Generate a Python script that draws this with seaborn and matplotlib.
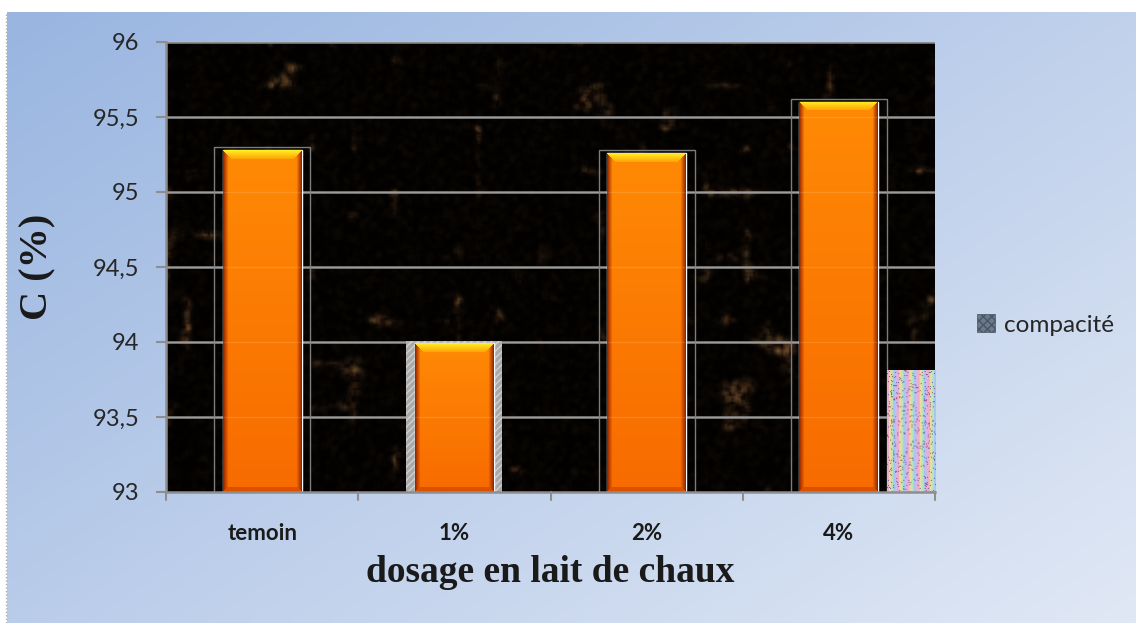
import numpy as np
import pandas as pd
import matplotlib
matplotlib.use("Agg")
import matplotlib.pyplot as plt
from matplotlib.patches import Patch
import seaborn as sns

# ---- data -------------------------------------------------------------
categories = ["temoin", "1%", "2%", "4%"]
compacite = [95.30, 94.01, 95.28, 95.62]
# narrow patterned column drawn at the right edge of the last group
extra_label = "compacité"
extra_value = 93.81
y_ticks = [93, 93.5, 94, 94.5, 95, 95.5, 96]
y_ticklabels = ["93", "93,5", "94", "94,5", "95", "95,5", "96"]

W, H, DPI = 1136, 623, 100
sns.set_theme(style="white")
plt.rcParams["font.family"] = ["Lato", "DejaVu Sans"]

fig = plt.figure(figsize=(W / DPI, H / DPI), dpi=DPI, facecolor="white")
rng = np.random.default_rng(11)


def upsample(a, shape):
    """Bilinear resize of a 2-D array."""
    h, w = a.shape
    yi = np.linspace(0, h - 1, shape[0])
    xi = np.linspace(0, w - 1, shape[1])
    y0 = np.floor(yi).astype(int); y1 = np.minimum(y0 + 1, h - 1); fy = (yi - y0)[:, None]
    x0 = np.floor(xi).astype(int); x1 = np.minimum(x0 + 1, w - 1); fx = (xi - x0)[None, :]
    top = a[y0][:, x0] * (1 - fx) + a[y0][:, x1] * fx
    bot = a[y1][:, x0] * (1 - fx) + a[y1][:, x1] * fx
    return top * (1 - fy) + bot * fy


def blur(a, n=1):
    k = np.ones(3) / 3
    for _ in range(n):
        for ax_i in (0, 1):
            a = np.apply_along_axis(lambda m: np.convolve(m, k, mode="same"), ax_i, a)
    return a


# ---- light blue gradient backdrop --------------------------------------
bg_ax = fig.add_axes([7 / W, 0, 1 - 7 / W, 1 - 12 / H], zorder=-10)
gx = np.linspace(0, 1, 300)[None, :]
gy = np.linspace(0, 1, 170)[:, None]
t = np.clip(0.55 * gx + 0.45 * gy, 0, 1)[..., None]
c0 = np.array([0.60, 0.71, 0.88])
c1 = np.array([0.88, 0.91, 0.96])
bg_ax.imshow(c0 * (1 - t) + c1 * t, aspect="auto", extent=(0, 1, 0, 1),
             interpolation="bilinear")
bg_ax.set_axis_off()
fig.add_artist(plt.Line2D([5.5 / W, 5.5 / W], [0, 1 - 12 / H], color="#b0b0b0",
                          lw=1, ls=(0, (1, 1.5)), transform=fig.transFigure))

# ---- main axes ----------------------------------------------------------
ax = fig.add_axes([166 / W, 1 - 492 / H, (935 - 166) / W, (492 - 42) / H])
ax.set_ylim(93, 96)
ax.set_xlim(-0.5, 3.5)

# dark speckled texture behind the plot
th, tw = 225, 385
cluster = upsample(rng.random((22, 38)), (th, tw))
cluster = np.clip((cluster - 0.72) / 0.28, 0, 1) ** 1.5
fine = blur(rng.random((th, tw)) ** 8, 1)
warm = np.array([0.95, 0.72, 0.42])
red = np.array([0.30, 0.07, 0.03])
tex = np.zeros((th, tw, 3)) + [0.008, 0.003, 0.0]
tex += (fine * (0.12 + 1.8 * cluster))[..., None] * warm
tex += (cluster * 0.30 * upsample(rng.random((60, 100)), (th, tw)))[..., None] * red
tex = np.clip(tex, 0, 1)
ax.imshow(tex, extent=(0, 1, 0, 1), transform=ax.transAxes, aspect="auto",
          interpolation="bilinear", zorder=0)

# grid lines
for yv in y_ticks[1:]:
    ax.axhline(yv, color="#8e8e8e", lw=1.8, zorder=1)

df = pd.DataFrame({"dosage": categories, "compacite": compacite})

# outer frames around each bar
sns.barplot(data=df, x="dosage", y="compacite", width=0.5, color="none",
            edgecolor="#7c7c7c", linewidth=1.0, ax=ax, zorder=2, errorbar=None)
frames = list(ax.patches)
for cat, p in zip(categories, frames):
    p.set_facecolor("none")
    if cat == "1%":
        p.set_facecolor("#a9a9a9")
        p.set_hatch("/////")
        p.set_edgecolor("#d0d0d0")
        p.set_linewidth(0)

# orange bars
n_before = len(ax.patches)
sns.barplot(data=df, x="dosage", y="compacite", width=0.41, color="#ff7f00",
            ax=ax, zorder=3, errorbar=None, saturation=1)
bars = list(ax.patches)[n_before:]

px_per_unit = (492 - 42) / 3.0
px_per_x = (935 - 166) / 4.0


def bevel_image(nrows, ncols):
    v = np.linspace(0, 1, nrows)[:, None]
    top = np.array([1.0, 0.54, 0.02])
    bot = np.array([0.97, 0.42, 0.0])
    img = top * (1 - v[..., None]) + bot * v[..., None]
    img = np.broadcast_to(img, (nrows, ncols, 3)).copy()
    col = np.arange(ncols)[None, :]
    row = np.arange(nrows)[:, None]
    dside = np.minimum(col, ncols - 1 - col)
    side = dside < 5
    shade = np.clip(dside / 5.0, 0, 1)
    side_col = np.array([0.60, 0.15, 0.0])
    sm = side & (row >= dside) & (nrows - 1 - row >= dside)
    blend = side_col * (1 - shade[..., None]) + img * shade[..., None]
    img[sm] = blend[sm]
    tb = 9
    topm = (row < tb) & (row <= dside)
    tv = (row / tb)[..., None]
    top_col = np.array([1.0, 0.93, 0.15]) * (1 - tv) + np.array([1.0, 0.62, 0.0]) * tv
    img[topm] = np.broadcast_to(top_col, img.shape)[topm]
    bb = 5
    botm = (nrows - 1 - row < bb) & (nrows - 1 - row <= dside)
    img[botm] = np.array([0.86, 0.32, 0.0])
    return np.clip(img, 0, 1)


ymin = ax.get_ylim()[0]
for p in bars:
    x0 = p.get_x()
    w = p.get_width()
    top_val = p.get_y() + p.get_height() - 0.02
    p.set_height(top_val - p.get_y())
    nrows = max(int((top_val - ymin) * px_per_unit), 10)
    ncols = max(int(w * px_per_x), 10)
    im = ax.imshow(bevel_image(nrows, ncols), extent=(x0, x0 + w, ymin, top_val),
                   aspect="auto", interpolation="bilinear", zorder=4)
    im.set_clip_path(p)

# faint grid showing through the bars
for yv in y_ticks[1:-1]:
    ax.axhline(yv, color="white", lw=1.0, alpha=0.12, zorder=4.5)

# narrow patterned column in the last group
extra_bar = ax.bar(3.375, extra_value - ymin, bottom=ymin, width=0.25,
                   color="#c8c0d8", zorder=3, linewidth=0)[0]
ph = int((extra_value - ymin) * px_per_unit)
pw = int(0.25 * px_per_x)
stripe_cols = np.array([[0.93, 0.68, 0.78], [0.92, 0.86, 0.62], [0.72, 0.90, 0.72],
                        [0.66, 0.78, 0.94], [0.82, 0.72, 0.92]])
pat = stripe_cols[(np.arange(pw) // 2) % len(stripe_cols)][None, :, :]
pat = np.broadcast_to(pat, (ph, pw, 3)).copy()
dots = rng.random((ph, pw)) < 0.05
pat[dots] = np.array([0.35, 0.40, 0.70])
dots2 = rng.random((ph, pw)) < 0.03
pat[dots2] = np.array([0.75, 0.25, 0.40])
im = ax.imshow(np.clip(pat, 0, 1), extent=(3.25, 3.5, ymin, extra_value),
               aspect="auto", interpolation="bilinear", zorder=4)
im.set_clip_path(extra_bar)

# ---- axes styling -------------------------------------------------------
ax.set_xlim(-0.5, 3.5)
ax.set_ylim(93, 96)
for s in ["top", "right"]:
    ax.spines[s].set_visible(False)
for s in ["left", "bottom"]:
    ax.spines[s].set_color("#8e8e8e")
    ax.spines[s].set_linewidth(1.8)
    ax.spines[s].set_zorder(5)

ax.set_yticks(y_ticks)
ax.set_yticklabels(y_ticklabels, fontsize=17, color="#262626")
ax.set_xticks(range(len(categories)))
ax.set_xticklabels(categories, fontsize=16, fontweight="bold", color="#1a1a1a")
ax.tick_params(axis="x", length=0, pad=22)
ax.tick_params(axis="y", left=True, length=7, width=1.5, color="#8e8e8e", pad=12)
for b in [-0.5, 0.5, 1.5, 2.5, 3.5]:
    ax.plot([b, b], [0, -0.018], transform=ax.get_xaxis_transform(),
            color="#8e8e8e", lw=1.5, clip_on=False, zorder=5)

ax.set_xlabel("dosage en lait de chaux", fontsize=27, fontweight="bold",
              family="Liberation Serif", color="#1a1a1a", labelpad=8)
ax.set_ylabel("C (%)", fontsize=29, fontweight="bold", family="Liberation Serif",
              color="#1a1a1a", labelpad=26)

legend_handle = Patch(facecolor="#6a7a8a", edgecolor="#4a5566", hatch="xxxx",
                      linewidth=0.5, label=extra_label)
fig.legend(handles=[legend_handle], loc="center left",
           bbox_to_anchor=(955 / W, 1 - 325 / H), frameon=False, fontsize=17.5,
           handlelength=0.75, handleheight=0.75, handletextpad=0.35,
           labelcolor="#262626")

fig.savefig("out.png", dpi=DPI, facecolor="white")
